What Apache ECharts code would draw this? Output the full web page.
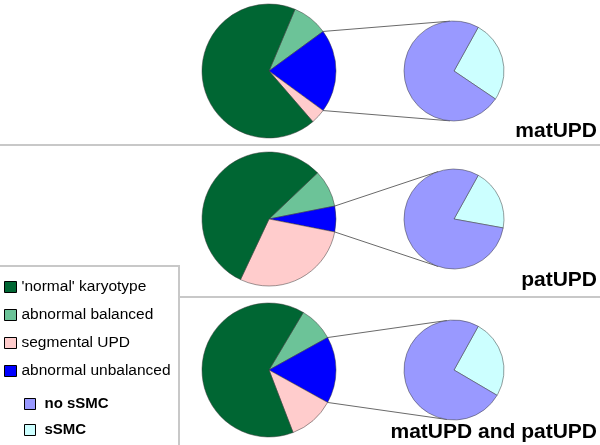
<!DOCTYPE html>
<html><head><meta charset="utf-8">
<script src="https://cdn.jsdelivr.net/npm/echarts@6/dist/echarts.min.js"></script>
<style>html,body{margin:0;padding:0;background:#fff}#c{width:600px;height:445px}</style>
</head><body><div id="c"></div>
<script>
// ---- data (percent of cases) ----
const rowLabels = ['matUPD', 'patUPD', 'matUPD and patUPD'];
const categories = ["'normal' karyotype", 'abnormal balanced', 'segmental UPD', 'abnormal unbalanced'];
const subCategories = ['no sSMC', 'sSMC'];
const normalKaryotype = [67.7, 55.9, 64.4];
const abnormalBalanced = [8.6, 9.0, 8.4];
const segmentalUPD = [3.6, 28.9, 11.1];
const abnormalUnbalanced = [20.1, 6.2, 16.1];
const noSSMC = [73.6, 80.2, 74.6];
const sSMC = [26.4, 19.8, 25.4];

// ---- styling / layout ----
const catColors = ['#006633', '#6CC398', '#FFCCCC', '#0000FF'];
const subColors = ['#9999FF', '#CCFFFF'];
const rowY = [71, 219, 370];
const bigX = 269, smallX = 454, R = 67, r = 50;
const smallStart = 61;

const chart = echarts.init(document.getElementById('c'), null, {renderer: 'canvas'});
const series = [];
const graphics = [];

// separators and legend box
graphics.push({type: 'line', shape: {x1: 0, y1: 145, x2: 600, y2: 145}, style: {stroke: '#c8c8c8', lineWidth: 2}, z: 0});
graphics.push({type: 'line', shape: {x1: 179, y1: 297, x2: 600, y2: 297}, style: {stroke: '#c8c8c8', lineWidth: 2}, z: 0});
graphics.push({type: 'rect', shape: {x: -5, y: 266, width: 184, height: 200}, style: {stroke: '#c8c8c8', lineWidth: 2, fill: '#fff'}, z: 0});

const rad = d => d * Math.PI / 180;
const pieStyle = {borderColor: '#3a3a3a', borderWidth: 0.5};

for (let i = 0; i < 3; i++) {
  const cy = rowY[i];
  const aBal = abnormalBalanced[i] * 3.6, aUnb = abnormalUnbalanced[i] * 3.6;
  const start = aBal + aUnb / 2; // exploded slice centred on the right
  series.push({
    type: 'pie', center: [bigX, cy], radius: R, startAngle: start, clockwise: true,
    label: {show: false}, labelLine: {show: false}, animation: false,
    emphasis: {scale: false}, itemStyle: pieStyle,
    data: [
      {name: categories[1], value: abnormalBalanced[i], itemStyle: {color: catColors[1]}},
      {name: categories[3], value: abnormalUnbalanced[i], itemStyle: {color: catColors[3]}},
      {name: categories[2], value: segmentalUPD[i], itemStyle: {color: catColors[2]}},
      {name: categories[0], value: normalKaryotype[i], itemStyle: {color: catColors[0]}}
    ]
  });
  series.push({
    type: 'pie', center: [smallX, cy], radius: r, startAngle: smallStart, clockwise: true,
    label: {show: false}, labelLine: {show: false}, animation: false,
    emphasis: {scale: false}, itemStyle: pieStyle,
    data: [
      {name: subCategories[1], value: sSMC[i], itemStyle: {color: subColors[1]}},
      {name: subCategories[0], value: noSSMC[i], itemStyle: {color: subColors[0]}}
    ]
  });
  // connector lines: from the boundaries of the exploded slice, tangent to the small pie
  const a1 = start - aBal, a2 = a1 - aUnb;
  [[a1, -1], [a2, 1]].forEach(([a, sgn]) => {
    const px = bigX + R * Math.cos(rad(a)), py = cy - R * Math.sin(rad(a));
    const dx = px - smallX, dy = cy - py;
    const d = Math.sqrt(dx * dx + dy * dy);
    let phi = Math.atan2(dy, dx); if (phi < 0) phi += 2 * Math.PI;
    const th = phi + sgn * Math.acos(r / d);
    const tx = smallX + r * Math.cos(th), ty = cy - r * Math.sin(th);
    graphics.push({type: 'line', shape: {x1: px, y1: py, x2: tx, y2: ty}, style: {stroke: '#6a6a6a', lineWidth: 1}, z: 1});
  });
}

// row captions
const baselines = [138, 287, 439];
rowLabels.forEach((t, i) => {
  graphics.push({type: 'text', z: 5, style: {
    text: t, x: 597, y: baselines[i] - 6.5, align: 'right', verticalAlign: 'middle',
    font: 'bold 21px "Liberation Sans", Arial, sans-serif', fill: '#000'
  }});
});

chart.setOption({
  backgroundColor: '#fff',
  animation: false,
  graphic: graphics,
  legend: [
    {
      data: categories, orient: 'vertical', left: 4, top: 279, padding: 0,
      itemWidth: 12, itemHeight: 11, itemGap: 12, icon: 'rect',
      itemStyle: {borderColor: '#000', borderWidth: 1},
      textStyle: {fontFamily: '"Liberation Sans", Arial, sans-serif', fontSize: 15.5, color: '#000', lineHeight: 16},
      selectedMode: false
    },
    {
      data: subCategories, orient: 'vertical', left: 24, top: 396, padding: 0,
      itemWidth: 11, itemHeight: 11, itemGap: 10, icon: 'rect',
      itemStyle: {borderColor: '#000', borderWidth: 1},
      textStyle: {fontFamily: '"Liberation Sans", Arial, sans-serif', fontSize: 15, fontWeight: 'bold', color: '#000', lineHeight: 16, padding: [0, 0, 0, 4]},
      selectedMode: false
    }
  ],
  series: series
});
</script>
</body></html>
